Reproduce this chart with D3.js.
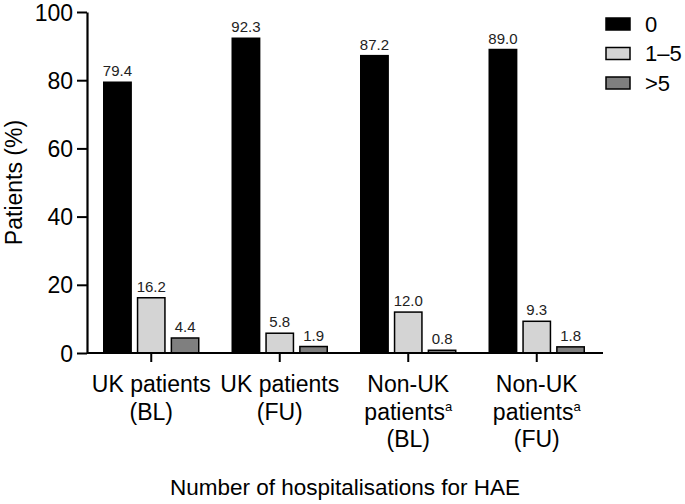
<!DOCTYPE html>
<html>
<head>
<meta charset="utf-8">
<script src="https://cdn.jsdelivr.net/npm/d3@7"></script>
<style>
  body { margin: 0; background: #fff; }
  svg { font-family: "Liberation Sans", Arial, sans-serif; }
</style>
</head>
<body>
<div id="chart"></div>
<script>
(function() {

  // data
  const groups = ['UK (BL)', 'UK (FU)', 'Non-UK (BL)', 'Non-UK (FU)'];
  const groupLabels = [
    [['UK patients', ''], ['(BL)', '']],
    [['UK patients', ''], ['(FU)', '']],
    [['Non-UK', ''], ['patients', 'a'], ['(BL)', '']],
    [['Non-UK', ''], ['patients', 'a'], ['(FU)', '']]
  ];
  const seriesNames = ['0', '1–5', '>5'];
  const zeroValues = [79.4, 92.3, 87.2, 89.0];
  const oneToFiveValues = [16.2, 5.8, 12.0, 9.3];
  const overFiveValues = [4.4, 1.9, 0.8, 1.8];
  const yTicks = [0, 20, 40, 60, 80, 100];

  const seriesValues = [zeroValues, oneToFiveValues, overFiveValues];
  const seriesColors = ['#000000', '#d4d4d4', '#7f7f7f'];

  const width = 685, height = 504;
  const plot = { left: 87, right: 601, top: 12, bottom: 353 };

  const svg = d3.select('#chart').append('svg')
    .attr('width', width)
    .attr('height', height);

  const x = d3.scaleBand()
    .domain(groups)
    .range([plot.left, plot.right]);

  const xInner = d3.scaleBand()
    .domain(seriesNames)
    .range([0, 100])
    .paddingInner(0.19);

  const y = d3.scaleLinear()
    .domain([0, 100])
    .range([plot.bottom, plot.top]);

  // inner band range centred in each group
  const innerW = 95;
  xInner.range([0, innerW]);
  const innerOffset = (x.bandwidth() - innerW) / 2;

  // bars
  seriesNames.forEach((name, si) => {
    const data = groups.map((g, gi) => ({ group: g, value: seriesValues[si][gi] }));
    const g = svg.append('g').attr('class', 'series');
    g.selectAll('rect')
      .data(data)
      .enter()
      .append('rect')
        .attr('x', d => x(d.group) + innerOffset + xInner(name))
        .attr('y', d => y(d.value))
        .attr('width', xInner.bandwidth())
        .attr('height', d => y(0) - y(d.value))
        .attr('fill', seriesColors[si])
        .attr('stroke', '#000')
        .attr('stroke-width', 1.5);
    g.selectAll('text')
      .data(data)
      .enter()
      .append('text')
        .attr('x', d => x(d.group) + innerOffset + xInner(name) + xInner.bandwidth() / 2)
        .attr('y', d => y(d.value) - 6)
        .attr('text-anchor', 'middle')
        .attr('font-size', 15)
        .attr('fill', '#222')
        .text(d => d.value.toFixed(1));
  });

  // y axis
  const yAxis = svg.append('g')
    .attr('transform', `translate(${plot.left},0)`)
    .call(d3.axisLeft(y).tickValues(yTicks).tickSize(10).tickPadding(4).tickSizeOuter(0));
  yAxis.select('.domain').attr('stroke-width', 2.2);
  yAxis.selectAll('.tick line').attr('stroke-width', 2);
  yAxis.selectAll('.tick text').attr('font-size', 23).attr('fill', '#000').attr('dy', '0.35em');

  // x axis
  const xAxis = svg.append('g')
    .attr('transform', `translate(0,${plot.bottom})`)
    .call(d3.axisBottom(x).tickSize(9).tickSizeOuter(0).tickFormat(''));
  xAxis.select('.domain')
    .attr('d', `M${plot.left},0H603`)
    .attr('stroke-width', 2.2);
  xAxis.selectAll('.tick line').attr('stroke-width', 2);

  // multi-line category labels
  groups.forEach((g, gi) => {
    const cx = x(g) + x.bandwidth() / 2;
    groupLabels[gi].forEach((line, li) => {
      const t = svg.append('text')
        .attr('x', cx)
        .attr('y', 392 + li * 27.5)
        .attr('text-anchor', 'middle')
        .attr('font-size', 23)
        .attr('fill', '#000');
      t.append('tspan').text(line[0]);
      if (line[1]) {
        t.append('tspan')
          .attr('font-size', 13)
          .attr('dy', -9)
          .text(line[1]);
      }
    });
  });

  // axis titles
  svg.append('text')
    .attr('x', (plot.left + 603) / 2)
    .attr('y', 495)
    .attr('text-anchor', 'middle')
    .attr('font-size', 22.5)
    .text('Number of hospitalisations for HAE');

  svg.append('text')
    .attr('transform', `translate(22,${(plot.top + plot.bottom) / 2}) rotate(-90)`)
    .attr('text-anchor', 'middle')
    .attr('font-size', 23)
    .text('Patients (%)');

  // legend
  const legend = svg.append('g').attr('transform', 'translate(606,18)');
  seriesNames.forEach((name, i) => {
    const row = legend.append('g').attr('transform', `translate(0,${i * 29.5})`);
    row.append('rect')
      .attr('width', 24)
      .attr('height', 12)
      .attr('fill', seriesColors[i])
      .attr('stroke', '#000')
      .attr('stroke-width', 1.5);
    row.append('text')
      .attr('x', 39)
      .attr('y', 6)
      .attr('dy', '0.35em')
      .attr('font-size', 22)
      .text(name);
  });
}());
</script>
</body>
</html>
